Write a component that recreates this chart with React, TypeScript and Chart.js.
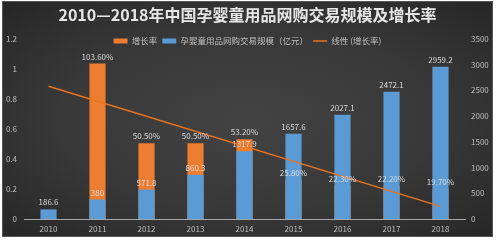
import React, { useEffect, useRef } from "react";
import { Chart, registerables } from "chart.js";

Chart.register(...registerables);

const years = ["2010", "2011", "2012", "2013", "2014", "2015", "2016", "2017", "2018"];
const growthRate = [null, 1.036, 0.505, 0.505, 0.532, 0.258, 0.223, 0.222, 0.197];
const marketSize = [186.6, 380, 571.8, 860.3, 1317.9, 1657.6, 2027.1, 2472.1, 2959.2];
// linear trend line of growth rate, endpoints
const trendValues = [0.885, null, null, null, null, null, null, null, 0.084];

const titleText = "2010—2018年中国孕婴童用品网购交易规模及增长率";
const growthLabel = "增长率";
const sizeLabel = "孕婴童用品网购交易规模（亿元）";
const trendLabel = "线性 (增长率)";

const FONT = "'Noto Sans CJK SC', 'Noto Sans', sans-serif";
const ORANGE = "#ED7D31";
const BLUE = "#5B9BD5";

const dataLabels = {
  id: "dataLabels",
  afterDatasetsDraw(chart: any) {
    const ctx = chart.ctx;
    ctx.save();
    ctx.font = `8px ${FONT}`;
    ctx.fillStyle = "#d9d9d9";
    ctx.textAlign = "center";
    ctx.textBaseline = "bottom";
    [0, 1].forEach((di) => {
      const meta = chart.getDatasetMeta(di);
      const ds = chart.data.datasets[di];
      meta.data.forEach((el: any, i: number) => {
        const v = ds.data[i];
        if (v === null || v === undefined) return;
        const txt = di === 0 ? (v * 100).toFixed(2) + "%" : String(v);
        ctx.fillText(txt, el.x, el.y - 3);
      });
    });
    ctx.restore();
  },
};

// moves the legend down so it sits over the top of the plot, as in the original
const legendShift = {
  id: "legendShift",
  afterLayout(chart: any) {
    const lg = chart.legend;
    if (!lg) return;
    const dy = 16.25;
    lg.top += dy;
    lg.bottom += dy;
  },
};

export default function App() {
  const ref = useRef<HTMLCanvasElement>(null);
  useEffect(() => {
    if (!ref.current) return;
    const chart = new Chart(ref.current, {
      type: "bar",
      data: {
        labels: years,
        datasets: [
          {
            type: "bar",
            label: growthLabel,
            data: growthRate as any,
            backgroundColor: ORANGE,
            borderWidth: 0,
            yAxisID: "y",
            grouped: false,
            order: 2,
            barPercentage: 0.33,
            categoryPercentage: 1,
            pointStyle: "rect",
          } as any,
          {
            type: "bar",
            label: sizeLabel,
            data: marketSize,
            backgroundColor: BLUE,
            borderWidth: 0,
            yAxisID: "y1",
            grouped: false,
            order: 1,
            barPercentage: 0.33,
            categoryPercentage: 1,
            pointStyle: "rect",
          } as any,
          {
            type: "line",
            label: trendLabel,
            data: trendValues as any,
            borderColor: "#E8731F",
            backgroundColor: "#E8731F",
            borderWidth: 1.5,
            pointRadius: 0,
            pointStyle: "line",
            spanGaps: true,
            yAxisID: "y",
            order: 0,
          } as any,
        ],
      },
      options: {
        animation: false,
        responsive: false,
        maintainAspectRatio: false,
        layout: { padding: 0 },
        plugins: {
          tooltip: { enabled: false },
          title: {
            display: true,
            text: titleText,
            color: "#e6e6e6",
            font: { family: FONT, size: 16, weight: "bold" },
            padding: { top: 4.4, bottom: -9.1 },
          },
          legend: {
            display: true,
            position: "top",
            labels: {
              usePointStyle: true,
              pointStyleWidth: 14,
              boxWidth: 14,
              boxHeight: 5,
              padding: 5,
              color: "#bfbfbf",
              font: { family: FONT, size: 8.5 },
              sort: (a: any, b: any) => a.datasetIndex - b.datasetIndex,
            },
          },
        },
        scales: {
          x: {
            grid: { display: false, drawTicks: false },
            border: { display: true, color: "#a6a6a6", width: 1 },
            ticks: { color: "#bfbfbf", font: { family: FONT, size: 8 }, padding: 5 },
            afterFit: (s: any) => {
              s.height = 18;
            },
          },
          y: {
            position: "left",
            min: 0,
            max: 1.2,
            grid: { display: false, drawTicks: false },
            border: { display: false },
            ticks: {
              stepSize: 0.2,
              color: "#bfbfbf",
              font: { family: FONT, size: 8 },
              padding: 7,
              callback: (v: any) => String(Math.round(Number(v) * 10) / 10),
            },
            afterFit: (s: any) => {
              s.width = 22;
            },
          },
          y1: {
            position: "right",
            min: 0,
            max: 3500,
            grid: { display: false, drawTicks: false },
            border: { display: false },
            ticks: {
              stepSize: 500,
              color: "#bfbfbf",
              font: { family: FONT, size: 8 },
              padding: 6,
              callback: (v: any) => String(v),
            },
            afterFit: (s: any) => {
              s.width = 28;
            },
          },
        },
      } as any,
      plugins: [dataLabels, legendShift],
    });
    return () => chart.destroy();
  }, []);

  return (
    <div
      style={{
        position: "absolute",
        left: 0,
        top: 0,
        width: 498,
        height: 245,
        background: "#ffffff",
      }}
    >
      <div
        style={{
          position: "absolute",
          left: 2,
          top: 1,
          width: 491,
          height: 236,
          background: "radial-gradient(ellipse at center, #434343 0%, #383838 55%, #262626 100%)",
          boxShadow: "inset 0 0 0 1px #555555",
        }}
      >
        <canvas ref={ref} width={491} height={236} style={{ display: "block" }} />
      </div>
    </div>
  );
}
